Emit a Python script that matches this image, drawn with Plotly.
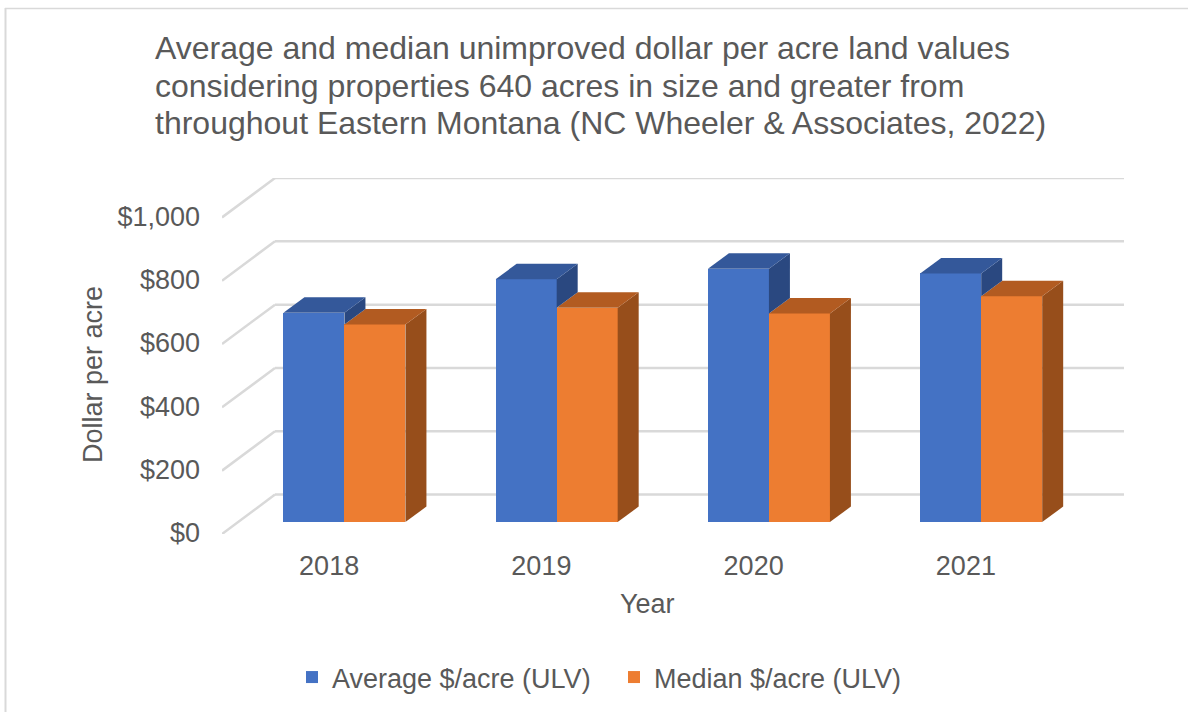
import plotly.graph_objects as go

years = ["2018", "2019", "2020", "2021"]
average_ulv = [661, 767, 800, 785]
median_ulv = [624, 677, 659, 713]
y_ticks = [0, 200, 400, 600, 800, 1000]
y_labels = ["$0", "$200", "$400", "$600", "$800", "$1,000"]
title_lines = ["Average and median unimproved dollar per acre land values",
               "considering properties 640 acres in size and greater from",
               "throughout Eastern Montana (NC Wheeler &amp; Associates, 2022)"]

W, H = 1188, 713
L, R, T, B = 222, 1124, 177.5, 534.5
SLOT = 212.25      # px per category
PXV = 0.3175       # px per dollar
WALL_X, WALL_Y = 53 / SLOT, 39.5 / PXV      # depth of floor
GAP_X, GAP_Y = 16.3 / SLOT, 12 / PXV        # bars set back from front plane
DEP_X, DEP_Y = 21 / SLOT, 15.5 / PXV        # bar depth
BW = 61 / SLOT
GRID = "#D9D9D9"
TXT = "#595959"
FONT = "Liberation Sans"
x_cat = list(range(len(years)))
XMIN, XMAX = -0.5, -0.5 + (R - L) / SLOT
YMAX = (B - T) / PXV


def pxx(x):
    return (x - L) / (R - L)


def py(y):
    return (B - y) / (B - T)


def poly(xs, ys, color):
    return go.Scatter(x=xs, y=ys, mode="lines", fill="toself", fillcolor=color,
                      line=dict(width=0, color=color), showlegend=False, hoverinfo="skip")


fig = go.Figure()
fig.add_bar(x=[c + GAP_X - BW / 2 for c in x_cat], y=average_ulv, base=GAP_Y, width=BW,
            marker=dict(color="#4472C4", line=dict(width=0)), name="Average $/acre (ULV)")
fig.add_bar(x=[c + GAP_X + BW / 2 for c in x_cat], y=median_ulv, base=GAP_Y, width=BW,
            marker=dict(color="#ED7D31", line=dict(width=0)), name="Median $/acre (ULV)")

for c, a, m in zip(x_cat, average_ulv, median_ulv):
    x0, x1 = c + GAP_X, c + GAP_X + BW
    top = m + GAP_Y
    fig.add_trace(poly([x1, x1 + DEP_X, x1 + DEP_X, x1, x1],
                       [GAP_Y, GAP_Y + DEP_Y, top + DEP_Y, top, GAP_Y], "#974E1B"))
    fig.add_trace(poly([x0, x1, x1 + DEP_X, x0 + DEP_X, x0],
                       [top, top, top + DEP_Y, top + DEP_Y, top], "#B25B21"))
    xa0, xa1 = c + GAP_X - BW, c + GAP_X
    ta = a + GAP_Y
    fig.add_trace(poly([xa1, xa1 + DEP_X, xa1 + DEP_X, xa1, xa1],
                       [top, top + DEP_Y, ta + DEP_Y, ta, top], "#2A4880"))
    fig.add_trace(poly([xa0, xa1, xa1 + DEP_X, xa0 + DEP_X, xa0],
                       [ta, ta, ta + DEP_Y, ta + DEP_Y, ta], "#34589A"))

shapes = []
for v in y_ticks:
    shapes.append(dict(type="line", xref="x", yref="y", layer="below",
                       x0=XMIN, y0=v, x1=XMIN + WALL_X, y1=v + WALL_Y,
                       line=dict(color=GRID, width=2.5)))
    shapes.append(dict(type="line", xref="x", yref="y", layer="below",
                       x0=XMIN + WALL_X, y0=v + WALL_Y, x1=XMAX, y1=v + WALL_Y,
                       line=dict(color=GRID, width=2.5)))
shapes.append(dict(type="line", xref="paper", yref="paper", layer="below",
                   x0=pxx(5.5), x1=pxx(5.5), y0=py(7), y1=py(713),
                   line=dict(color=GRID, width=2)))
shapes.append(dict(type="line", xref="paper", yref="paper", layer="below",
                   x0=pxx(5), x1=pxx(1188), y0=py(7.5), y1=py(7.5),
                   line=dict(color=GRID, width=1.5)))

annotations = [
    dict(text="Year", xref="paper", yref="paper", x=pxx(647), y=py(605),
         xanchor="center", yanchor="middle", showarrow=False,
         font=dict(size=27, color=TXT, family=FONT)),
    dict(text="Dollar per acre", xref="paper", yref="paper", x=pxx(93), y=py(375),
         xanchor="center", yanchor="middle", showarrow=False, textangle=-90,
         font=dict(size=27, color=TXT, family=FONT)),
]
for line, yc in zip(title_lines[1:], [85.5, 122]):
    annotations.append(dict(text=line, xref="paper", yref="paper", x=pxx(155), y=py(yc),
                            xanchor="left", yanchor="middle", showarrow=False, xshift=-2,
                            font=dict(size=32, color=TXT, family=FONT)))

fig.update_layout(
    width=W, height=H, autosize=False,
    margin=dict(l=L, r=W - R, t=T, b=H - B, pad=0),
    paper_bgcolor="white", plot_bgcolor="white",
    barmode="overlay", bargap=0,
    font=dict(family=FONT, color=TXT, size=27),
    title=dict(text=title_lines[0],
               xref="container", yref="container", x=155 / W, xanchor="left",
               y=1 - 48 / H, yanchor="middle",
               font=dict(family=FONT, size=32, color=TXT)),
    xaxis=dict(range=[XMIN, XMAX], tickmode="array", tickvals=x_cat, ticktext=years,
               showgrid=False, zeroline=False, showline=False, ticks="",
               ticklabelstandoff=13, ticklabelshift=1,
               tickfont=dict(size=27, color=TXT, family=FONT)),
    yaxis=dict(range=[0, YMAX], tickmode="array", tickvals=y_ticks, ticktext=y_labels,
               showgrid=False, zeroline=False, showline=False, ticks="",
               ticklabelstandoff=21, ticklabelshift=-1,
               tickfont=dict(size=27, color=TXT, family=FONT)),
    legend=dict(orientation="h", xref="container", yref="container", x=292 / W, xanchor="left",
                y=1 - 653 / H, yanchor="top", entrywidth=277, entrywidthmode="pixels",
                font=dict(size=27, color=TXT, family=FONT), bgcolor="rgba(0,0,0,0)"),
    shapes=shapes,
    annotations=annotations,
)

fig.write_html("out.html", config={"displayModeBar": False},
               post_script="document.body.style.margin='0';document.body.style.overflow='hidden';")
